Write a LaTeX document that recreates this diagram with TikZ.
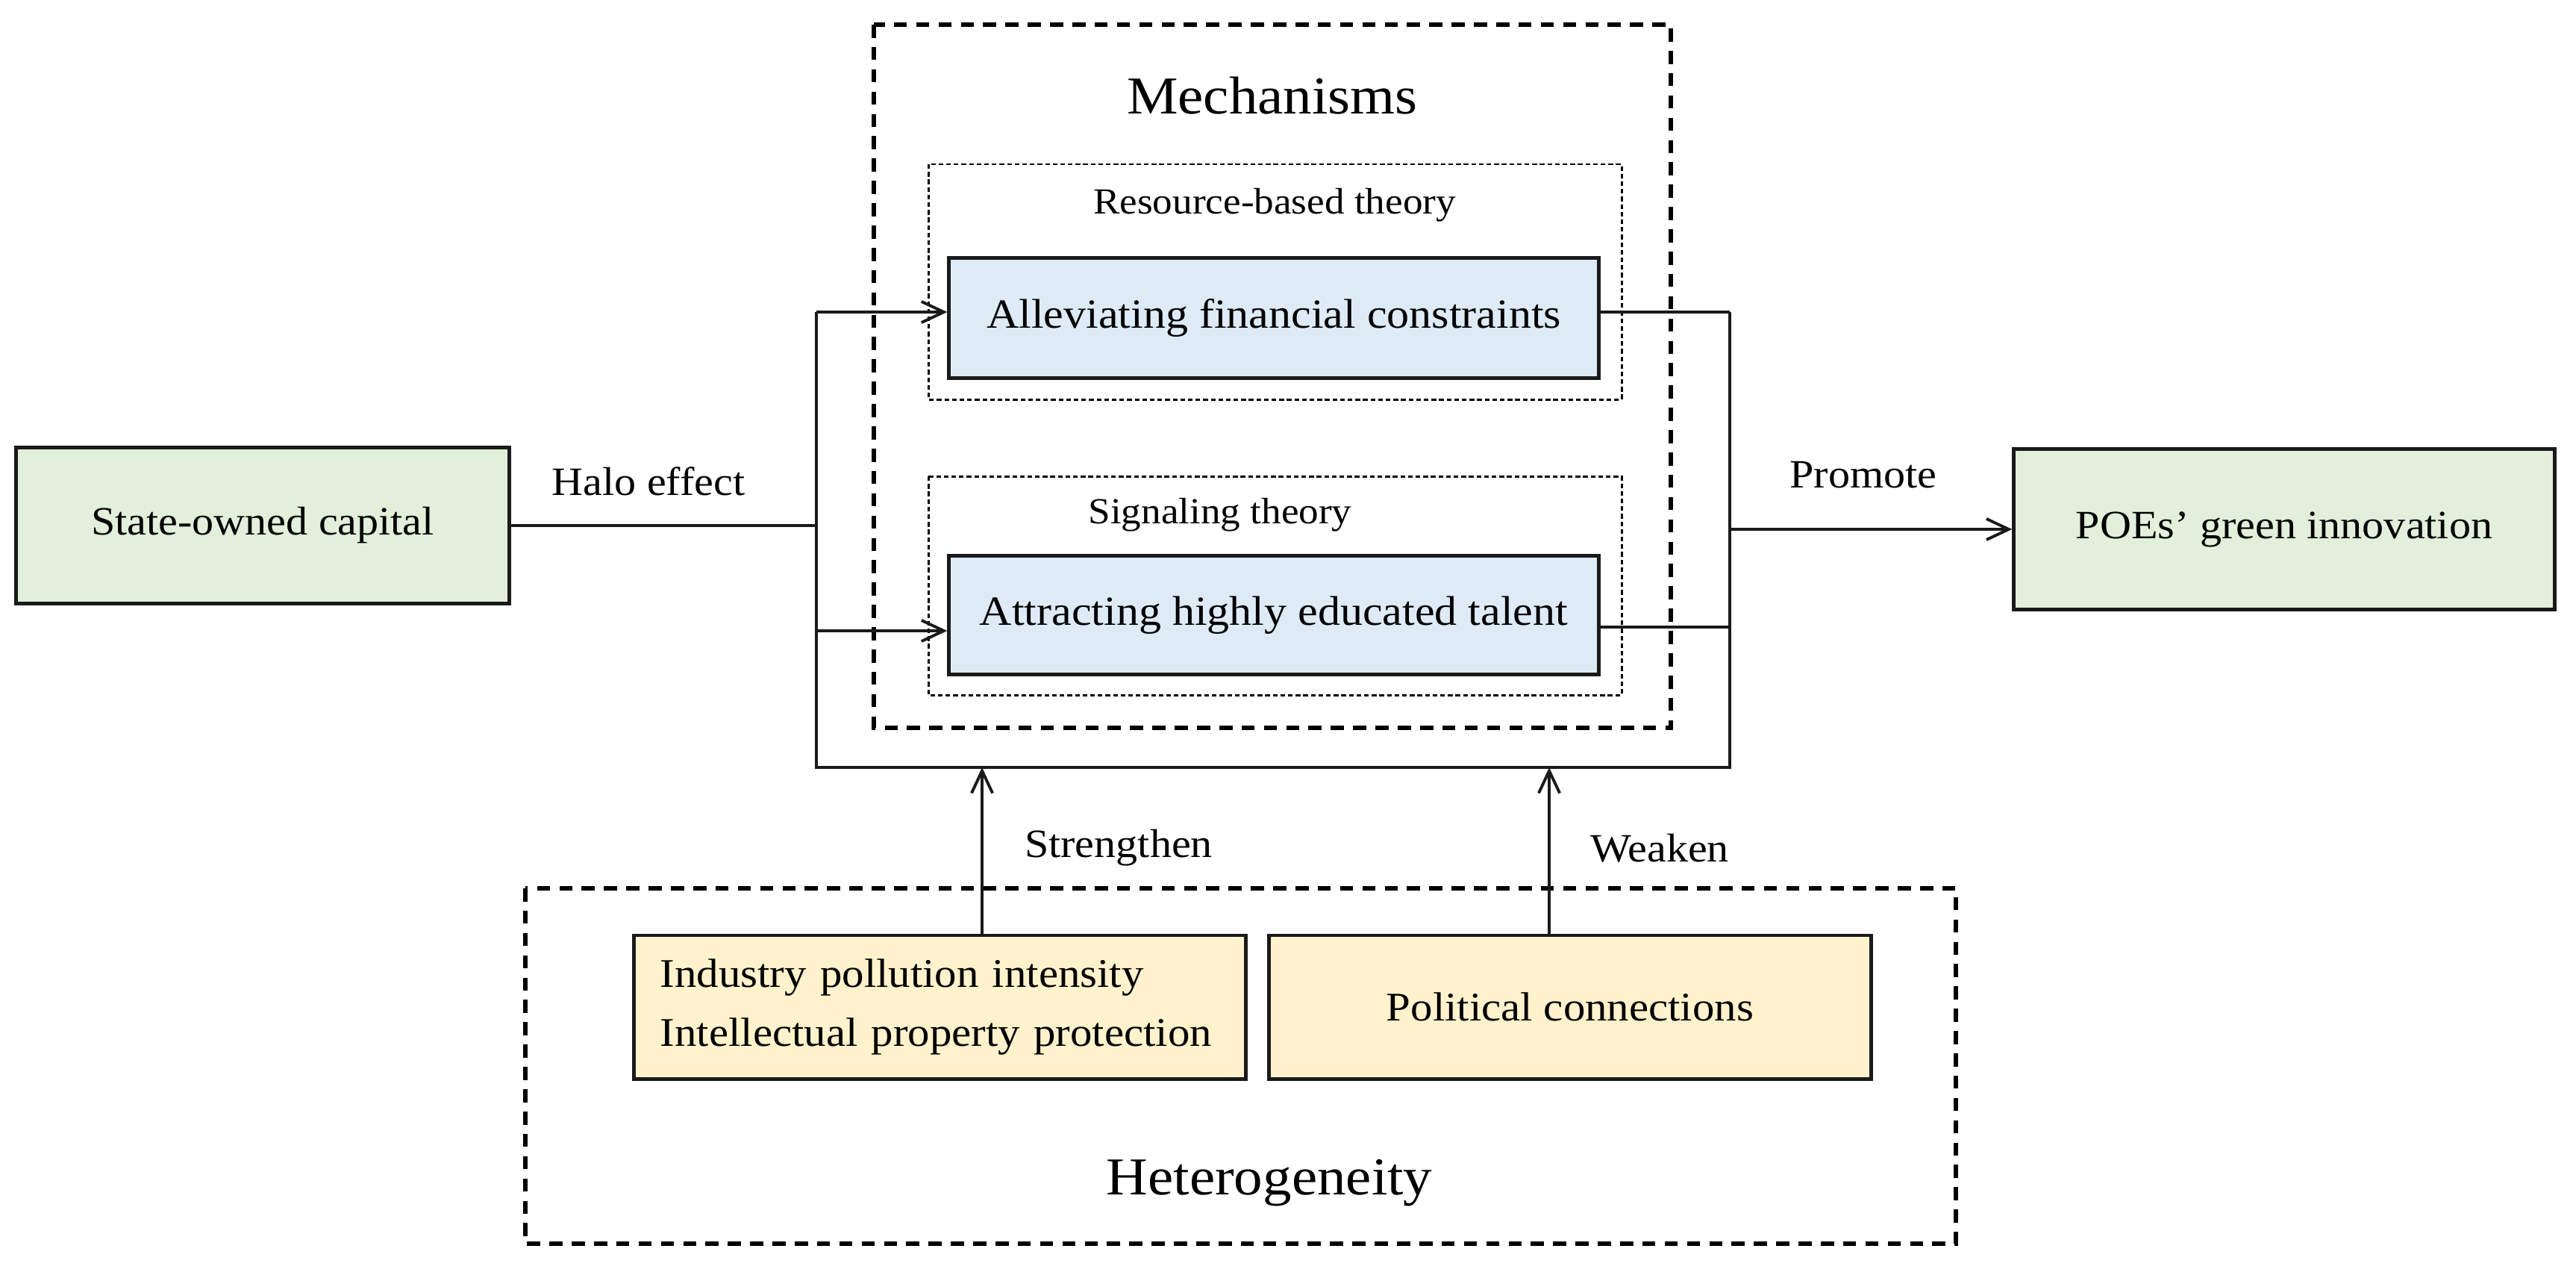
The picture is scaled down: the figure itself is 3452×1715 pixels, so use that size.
\documentclass[tikz,border=0pt]{standalone}
\usepackage{fontspec}
\setmainfont{Liberation Serif}[FakeStretch=1.08]
\usetikzlibrary{arrows.meta}
\definecolor{boxgreen}{HTML}{E2EFDA}
\definecolor{boxblue}{HTML}{DEEBF7}
\definecolor{boxyellow}{HTML}{FFF2CC}
\definecolor{edgecol}{HTML}{1A1A1A}
\tikzset{
  box/.style={draw=edgecol, line width=1.4pt, inner sep=0pt, align=center,
              font=\fontsize{15.3}{18}\selectfont},
  greenbox/.style={box, fill=boxgreen},
  bluebox/.style={box, fill=boxblue, font=\fontsize{15.8}{18}\selectfont},
  yellowbox/.style={box, fill=boxyellow, font=\fontsize{15.5}{22.5}\selectfont},
  bigdash/.style={draw=black, line width=1.6pt, dash pattern=on 5pt off 3.5pt},
  smalldash/.style={draw=black, line width=0.85pt, dash pattern=on 1.8pt off 1.1pt},
  conn/.style={draw=edgecol, line width=1.1pt},
  arr/.style={conn, -{Straight Barb[length=8.5pt,width=8pt,line width=1.1pt]}},
  lbl/.style={font=\fontsize{15.3}{18}\selectfont, inner sep=0pt},
  theorylbl/.style={font=\fontsize{14}{16}\selectfont, inner sep=0pt},
  titlelbl/.style={font=\fontsize{20.3}{24}\selectfont, inner sep=0pt},
}
\begin{document}
\begin{tikzpicture}[x=0.01cm, y=-0.01cm]
\useasboundingbox (0,0) rectangle (3452,1715);
\fill[white] (0,0) rectangle (3452,1715);

% dashed frames
\draw[bigdash] (1171,33) rectangle (2239,975);
\draw[smalldash] (1244,220) rectangle (2173,535);
\draw[smalldash] (1244,638) rectangle (2173,931);
\draw[bigdash] (704,1190) rectangle (2621,1666);

% titles
\node[titlelbl] (mech) at (1705,128) {Mechanisms};
\node[titlelbl] (het) at (1701,1585) {Heterogeneity};
\node[theorylbl] (rbt) at (1708,275) {Resource-based theory};
\node[theorylbl] (sig) at (1635,690) {Signaling theory};

% boxes
\node[greenbox, minimum width=6.6cm, minimum height=2.09cm] (soc) at (352,704) {State-owned capital};
\node[greenbox, minimum width=7.24cm, minimum height=2.14cm] (poe) at (3061,709) {POEs’ green innovation};
\node[bluebox, minimum width=8.7cm, minimum height=1.6cm] (afc) at (1707,426) {Alleviating financial constraints};
\node[bluebox, minimum width=8.7cm, minimum height=1.59cm] (ahe) at (1707,824) {Attracting highly educated talent};
\node[yellowbox, minimum width=8.19cm, minimum height=1.92cm, text width=7.49cm, inner xsep=0.35cm, align=left] (ipi) at (1259.5,1349) {Industry pollution intensity\\Intellectual property protection};
\node[yellowbox, minimum width=8.07cm, minimum height=1.92cm] (pc) at (2104,1349) {Political connections};

% connector coordinates
\coordinate (lt) at (1094,418);
\coordinate (la) at (1094,845);
\coordinate (lb) at (1094,1028);
\coordinate (rt) at (2318,418);
\coordinate (ra) at (2318,840);
\coordinate (rb) at (2318,1028);
\coordinate (s1) at (1316,1028);
\coordinate (w1) at (2076,1028);

% connectors
\draw[conn] (soc.east) -- (soc.east -| lt);
\draw[conn] (lt) -- (lb) -- (rb) -- (rt);
\draw[arr] (lt) -- (lt -| afc.west);
\draw[arr] (la) -- (la -| ahe.west);
\draw[conn] (afc.east |- rt) -- (rt);
\draw[conn] (ahe.east |- ra) -- (ra);
\draw[arr] (poe.west -| rt) -- (poe.west);
\draw[arr] (s1 |- ipi.north) -- (s1);
\draw[arr] (w1 |- pc.north) -- (w1);

% edge labels
\node[lbl] (halo) at (869,645) {Halo effect};
\node[lbl] (prom) at (2497,636) {Promote};
\node[lbl] (str) at (1499,1136) {Strengthen};
\node[lbl] (weak) at (2224,1136) {Weaken};
\end{tikzpicture}
\end{document}
